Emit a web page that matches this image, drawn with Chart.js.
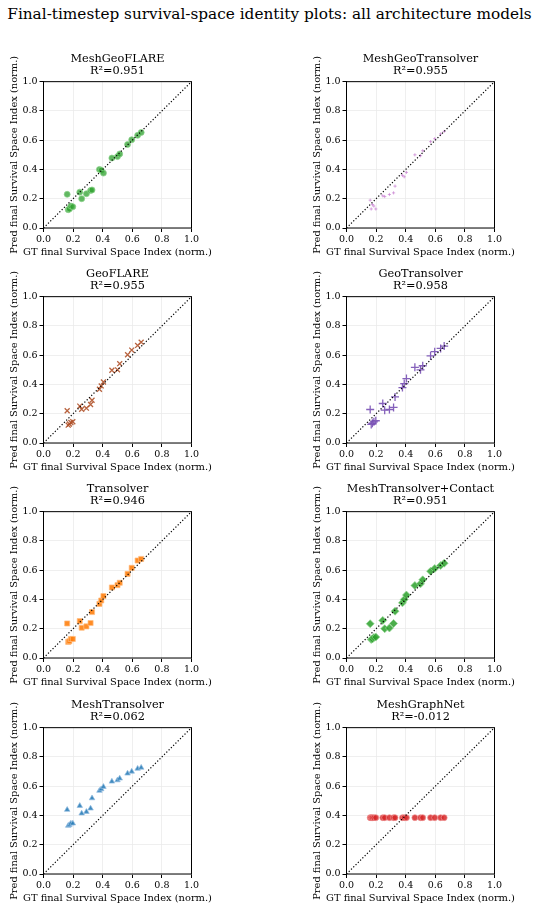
<!DOCTYPE html>
<html>
<head>
<meta charset="utf-8">
<script src="https://cdn.jsdelivr.net/npm/chart.js@4.4.1/dist/chart.umd.min.js"></script>
<style>
body{margin:0;background:#fff;width:539px;height:910px;position:relative;overflow:hidden;font-family:"DejaVu Serif";}
#title{position:absolute;left:0;top:5px;width:539px;text-align:center;font-size:15.3px;color:#000;}
canvas{position:absolute;pointer-events:none;}
</style>
</head>
<body>
<div id="title">Final-timestep survival-space identity plots: all architecture models</div>
<script>
// ground truth (shared by every panel)
const gtValues = [0.160, 0.167, 0.175, 0.185, 0.198, 0.245, 0.258, 0.290, 0.318, 0.328,
                  0.378, 0.390, 0.405, 0.462, 0.500, 0.515, 0.568, 0.596, 0.636, 0.660];

const predMeshGeoFLARE      = [0.230, 0.125, 0.130, 0.150, 0.145, 0.245, 0.200, 0.234, 0.256, 0.260,
                               0.400, 0.395, 0.375, 0.478, 0.488, 0.506, 0.571, 0.603, 0.633, 0.653];
const predMeshGeoTransolver = [0.190, 0.130, 0.160, 0.150, 0.130, 0.220, 0.215, 0.229, 0.240, 0.286,
                               0.360, 0.350, 0.380, 0.500, 0.494, 0.528, 0.590, 0.610, 0.643, 0.660];
const predGeoFLARE          = [0.220, 0.122, 0.130, 0.140, 0.145, 0.252, 0.231, 0.238, 0.263, 0.292,
                               0.367, 0.390, 0.417, 0.497, 0.500, 0.542, 0.603, 0.635, 0.667, 0.689];
const predGeoTransolver     = [0.229, 0.127, 0.135, 0.145, 0.152, 0.270, 0.224, 0.229, 0.243, 0.315,
                               0.379, 0.406, 0.440, 0.517, 0.500, 0.528, 0.596, 0.624, 0.646, 0.662];
const predTransolver        = [0.236, 0.110, 0.115, 0.130, 0.130, 0.252, 0.207, 0.216, 0.239, 0.314,
                               0.370, 0.393, 0.423, 0.482, 0.498, 0.514, 0.575, 0.616, 0.666, 0.677];
const predMeshTransolverContact = [0.234, 0.127, 0.130, 0.140, 0.143, 0.257, 0.200, 0.205, 0.236, 0.320,
                               0.377, 0.400, 0.430, 0.495, 0.507, 0.534, 0.593, 0.611, 0.632, 0.648];
const predMeshTransolver    = [0.439, 0.330, 0.335, 0.345, 0.346, 0.466, 0.414, 0.425, 0.448, 0.518,
                               0.569, 0.580, 0.596, 0.632, 0.641, 0.653, 0.687, 0.700, 0.720, 0.727];
const predMeshGraphNet      = [0.385, 0.385, 0.385, 0.385, 0.385, 0.385, 0.385, 0.385, 0.385, 0.385,
                               0.385, 0.385, 0.385, 0.385, 0.385, 0.385, 0.385, 0.385, 0.385, 0.385];

const modelNames = ['MeshGeoFLARE', 'MeshGeoTransolver', 'GeoFLARE', 'GeoTransolver',
                    'Transolver', 'MeshTransolver+Contact', 'MeshTransolver', 'MeshGraphNet'];
const r2Labels = ['0.951', '0.955', '0.955', '0.958', '0.946', '0.951', '0.062', '-0.012'];
const tickValues = [0, 0.2, 0.4, 0.6, 0.8, 1.0];
const xTitle = 'GT final Survival Space Index (norm.)';
const yTitle = 'Pred final Survival Space Index (norm.)';

const predictions = [predMeshGeoFLARE, predMeshGeoTransolver, predGeoFLARE, predGeoTransolver,
                     predTransolver, predMeshTransolverContact, predMeshTransolver, predMeshGraphNet];

// marker look per panel
const markerStyles = [
    {pointStyle: 'circle',   radius: 3,   bg: 'rgba(44,160,44,0.75)',  border: 'rgba(140,210,140,0.7)', bw: 1},
    {pointStyle: 'cross',    radius: 1.6, bg: 'rgba(196,120,206,0.8)', border: 'rgba(196,120,206,0.8)', bw: 0.8},
    {pointStyle: 'crossRot', radius: 3.5, bg: 'rgba(176,82,42,0.9)',   border: 'rgba(176,82,42,0.9)',   bw: 1.3},
    {pointStyle: 'cross',    radius: 4,   bg: 'rgba(120,80,180,0.9)',  border: 'rgba(120,80,180,0.9)',  bw: 1.3},
    {pointStyle: 'rect',     radius: 3.6, bg: 'rgba(255,127,14,0.9)',  border: 'rgba(255,190,130,0.7)', bw: 1},
    {pointStyle: 'rectRot',  radius: 4,   bg: 'rgba(44,160,44,0.85)',  border: 'rgba(150,215,150,0.7)', bw: 1},
    {pointStyle: 'triangle', radius: 3.2, bg: 'rgba(31,119,180,0.85)', border: 'rgba(150,190,225,0.7)', bw: 1},
    {pointStyle: 'circle',   radius: 3,   bg: 'rgba(214,39,40,0.85)',  border: 'rgba(240,150,150,0.7)', bw: 1}
];

const chartTops = [81, 296, 511, 727];
const colLefts = [0, 303];
const canvasW = 235, plotW = 148, plotH = 147, titleH = 40, xAxisH = 31;
const padLeft = 8, yAxisW = 35.5;
const axisTitleFont = '9.9px "DejaVu Serif"';

// frame on all four sides + axis titles (drawn unsqueezed)
const frame = {
    id: 'frame',
    afterDraw(chart) {
        const a = chart.chartArea;
        const ctx = chart.ctx;
        ctx.save();
        ctx.strokeStyle = '#000';
        ctx.lineWidth = 1;
        ctx.strokeRect(a.left, a.top, a.right - a.left, a.bottom - a.top);
        ctx.fillStyle = '#000';
        ctx.font = axisTitleFont;
        ctx.textAlign = 'center';
        ctx.textBaseline = 'middle';
        ctx.fillText(xTitle, (a.left + a.right) / 2, a.bottom + 24.3);
        ctx.translate(a.left - 29.5, (a.top + a.bottom) / 2);
        ctx.rotate(-Math.PI / 2);
        ctx.fillText(yTitle, 0, 0);
        ctx.restore();
    }
};

function axisOpts(isY) {
    return {
        type: 'linear',
        min: 0,
        max: 1,
        afterBuildTicks: s => { s.ticks = tickValues.map(v => ({value: v})); },
        afterFit: s => { if (isY) s.width = yAxisW; else s.height = xAxisH; },
        ticks: {
            color: '#000',
            padding: 2,
            font: {family: 'DejaVu Serif', size: 9.5},
            callback: v => Number(v).toFixed(1),
            maxRotation: 0
        },
        grid: {color: '#ebebeb', lineWidth: 0.8, tickColor: '#000', tickLength: 4, tickWidth: 1},
        border: {display: false},
        title: {display: false}
    };
}

modelNames.forEach((name, i) => {
    const col = i % 2;
    const row = Math.floor(i / 2);
    const canvas = document.createElement('canvas');
    canvas.width = canvasW;
    canvas.height = titleH + plotH + xAxisH;
    canvas.style.left = colLefts[col] + 'px';
    canvas.style.top = (chartTops[row] - titleH) + 'px';
    document.body.appendChild(canvas);

    const m = markerStyles[i];
    const points = gtValues.map((g, k) => ({x: g, y: predictions[i][k]}));

    new Chart(canvas.getContext('2d'), {
        type: 'scatter',
        data: {
            datasets: [{
                type: 'line',
                data: [{x: 0, y: 0}, {x: 1, y: 1}],
                borderColor: '#000',
                borderWidth: 1.2,
                borderDash: [1.2, 2],
                pointRadius: 0,
                fill: false
            },
            {
                label: name,
                data: points,
                pointStyle: m.pointStyle,
                pointRadius: m.radius,
                backgroundColor: m.bg,
                borderColor: m.border,
                borderWidth: m.bw
            }]
        },
        options: {
            responsive: false,
            maintainAspectRatio: false,
            animation: false,
            events: [],
            layout: {padding: {left: padLeft, right: canvasW - padLeft - yAxisW - plotW, top: 0, bottom: 0}},
            scales: {
                x: axisOpts(false),
                y: axisOpts(true)
            },
            plugins: {
                legend: {display: false},
                tooltip: {enabled: false},
                title: {
                    display: true,
                    fullSize: false,
                    text: [name, 'R\u00b2=' + r2Labels[i]],
                    color: '#000',
                    font: {family: 'DejaVu Serif', size: 11.3, weight: 'normal', lineHeight: 1.1},
                    padding: {top: 11.5, bottom: 4.3}
                }
            }
        },
        plugins: [frame]
    });
});
</script>
</body>
</html>
